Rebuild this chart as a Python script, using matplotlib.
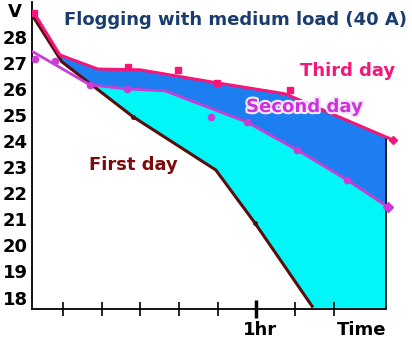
import numpy as np
import matplotlib
matplotlib.use("Agg")
import matplotlib.pyplot as plt
import matplotlib.patheffects as pe

# ---- data (time in minutes, voltage in V) ----
first_t = [2.0, 9.7, 28.1, 49.5, 59.6, 74.6]
first_v = [28.84, 27.04, 24.93, 22.89, 20.86, 17.62]
first_mt = [28.1, 59.6]
first_mv = [24.93, 20.86]

second_t = [2.25, 17.0, 26.5, 36.4, 57.5, 70.5, 83.4, 94.0]
second_v = [27.42, 26.15, 26.00, 25.92, 24.73, 23.66, 22.51, 21.47]
second_mt = [2.76, 7.93, 17.0, 26.5, 48.2, 57.5, 70.5, 83.4]
second_mv = [27.15, 27.07, 26.15, 26.00, 24.93, 24.73, 23.66, 22.51]

third_t = [2.5, 9.2, 19.0, 29.9, 49.8, 67.4, 95.3]
third_v = [28.92, 27.30, 26.76, 26.73, 26.23, 25.81, 24.04]
third_mt = [2.5, 26.8, 39.7, 49.8, 68.7]
third_mv = [28.92, 26.84, 26.73, 26.23, 25.96]

t_end = 93.5
y_ticks = [18, 19, 20, 21, 22, 23, 24, 25, 26, 27, 28]
x_ticks = [10, 20, 30, 40, 50, 60, 70, 80]
x_labels = ["", "", "", "", "", "1hr", "", ""]

W, H = 412, 355
fig = plt.figure(figsize=(W / 100, H / 100), dpi=100)
fig.patch.set_facecolor("white")

def fx(px):
    return px / W

def fy(py):
    return 1 - py / H

ax = fig.add_axes([fx(32), fy(309), fx(405) - fx(32), fy(2) - fy(309)])
ax.set_facecolor("none")

ymin, ymax = 17.56, 29.33
xmin, xmax = 2.0, 98.4
ax.set_xlim(xmin, xmax)
ax.set_ylim(ymin, ymax)

# colours
c_blue = "#1d7ef2"
c_cyan = "#00f7f7"
c_pink = "#f5167a"
c_violet = "#c93dd4"
c_brown = "#5a0d0d"

t = np.linspace(third_t[1], t_end, 3000)
f_i = np.interp(t, first_t, first_v)
s_i = np.interp(t, second_t, second_v)
th_i = np.interp(t, third_t, third_v)

low_b = np.maximum(s_i, f_i)
ax.fill_between(t, low_b, th_i, where=th_i >= low_b, interpolate=True,
                color=c_blue, lw=0, zorder=1)
low_c = np.maximum(f_i, ymin)
ax.fill_between(t, low_c, s_i, where=s_i >= low_c, interpolate=True,
                color=c_cyan, lw=0, zorder=1)

# right edge line
ax.plot([t_end, t_end], [ymin, np.interp(t_end, third_t, third_v)],
        color="black", lw=1.2, zorder=2)

# lines
ax.plot(first_t, first_v, color=c_brown, lw=2.2, zorder=3,
        solid_capstyle="butt")
ax.plot(first_mt, first_mv, "o", color=c_brown, ms=2.5, zorder=4)
ax.plot(second_t, second_v, color=c_violet, lw=2.0, zorder=3)
ax.plot(second_mt, second_mv, "o", color=c_violet, ms=4.5, zorder=4)
ax.plot([second_t[-1]], [second_v[-1]], "D", color=c_violet, ms=5, zorder=4)
ax.plot(third_t, third_v, color=c_pink, lw=2.2, zorder=3)
ax.plot(third_mt, third_mv, "s", color=c_pink, ms=4, zorder=4)
ax.plot([third_t[-1]], [third_v[-1]], "D", color=c_pink, ms=4, zorder=4)

# axes styling
for s in ["top", "right"]:
    ax.spines[s].set_visible(False)
ax.spines["left"].set_linewidth(1.3)
ax.spines["bottom"].set_linewidth(1.3)
ax.spines["bottom"].set_bounds(xmin, t_end)

ax.set_yticks(y_ticks)
ax.set_yticklabels([str(v) for v in y_ticks])
ax.tick_params(axis="y", length=0, pad=3)
for lab in ax.get_yticklabels():
    lab.set_fontweight("bold")
    lab.set_fontsize(13)
    lab.set_family("DejaVu Sans")

ax.set_xticks(x_ticks)
ax.set_xticklabels(["" for _ in x_ticks])
ax.tick_params(axis="x", direction="inout", length=10, width=1.2)
tk = ax.xaxis.get_major_ticks()[5]
tk.tick1line.set_markeredgewidth(2.5)
tk.tick1line.set_markersize(13)

kw = dict(fontweight="bold", fontsize=13, family="DejaVu Sans",
          ha="center", va="center")
fig.text(fx(235), fy(20), "Flogging with medium load (40 A)",
         color="#1b3d6e", **kw)
fig.text(fx(348), fy(71), "Third day", color=c_pink, **kw)
fig.text(fx(304), fy(107), "Second day", color="#cc33dd", zorder=10,
         path_effects=[pe.withStroke(linewidth=3, foreground="#f4e8f8")], **kw)
fig.text(fx(133), fy(165), "First day", color="#7a0c0c", **kw)
fig.text(fx(260), fy(330), "1hr", color="black", **kw)
fig.text(fx(362), fy(330), "Time", color="black", **kw)
fig.text(fx(15), fy(12), "V", color="black", **kw)

fig.savefig("out.png", dpi=100, facecolor="white")
